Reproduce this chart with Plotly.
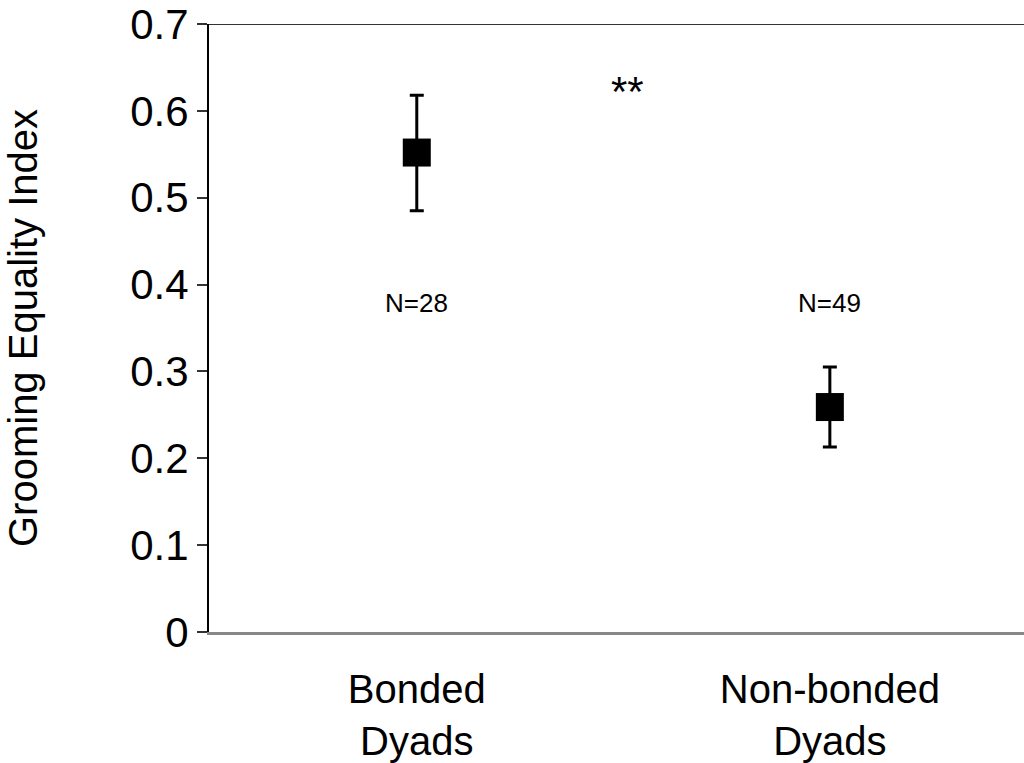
import plotly.graph_objects as go

categories = ["Bonded<br>Dyads", "Non-bonded<br>Dyads"]
means = [0.552, 0.259]
err_plus = [0.066, 0.046]
err_minus = [0.067, 0.046]
n_labels = ["N=28", "N=49"]
n_label_y = [0.379, 0.379]
sig_label = "**"
sig_x = 0.51
sig_y = 0.622
y_ticks = [0, 0.1, 0.2, 0.3, 0.4, 0.5, 0.6, 0.7]
y_ticklabels = ["0", "0.1", "0.2", "0.3", "0.4", "0.5", "0.6", "0.7"]

FONT = "Liberation Sans, Arial, sans-serif"

fig = go.Figure()
fig.add_trace(go.Scatter(
    x=categories, y=means, mode="markers",
    marker=dict(symbol="square", size=28, color="black"),
    error_y=dict(type="data", symmetric=False, array=err_plus, arrayminus=err_minus,
                 color="black", thickness=3, width=7),
    showlegend=False,
))

for c, t, yy in zip(categories, n_labels, n_label_y):
    fig.add_annotation(x=c, y=yy, text=t, showarrow=False,
                       font=dict(family=FONT, size=26, color="black"))

fig.add_annotation(x=sig_x, y=sig_y, text=sig_label, showarrow=False,
                   font=dict(family=FONT, size=42, color="black"))

# top border line at the axis maximum
fig.add_shape(type="line", xref="paper", x0=0, x1=1, yref="y", y0=0.7, y1=0.7,
              line=dict(color="#333333", width=2))

fig.update_layout(
    width=1024, height=763,
    margin=dict(l=209, r=0, t=24, b=129),
    paper_bgcolor="white", plot_bgcolor="white",
    font=dict(family=FONT, color="black"),
)
fig.update_xaxes(
    type="category", range=[-0.503, 1.47],
    showline=True, linecolor="#888888", linewidth=2.5,
    ticks="", showgrid=False, zeroline=False,
    tickfont=dict(family=FONT, size=40, color="black"),
    ticklabelstandoff=20,
)
fig.update_yaxes(
    range=[0, 0.7], tickvals=y_ticks, ticktext=y_ticklabels,
    showline=True, linecolor="black", linewidth=2,
    ticks="outside", ticklen=10, tickwidth=2, tickcolor="#333333",
    showgrid=False, zeroline=False,
    tickfont=dict(family=FONT, size=42, color="black"),
    title=dict(text="Grooming Equality Index", font=dict(family=FONT, size=40, color="black"),
               standoff=80),
)

fig.write_html("out.html")
